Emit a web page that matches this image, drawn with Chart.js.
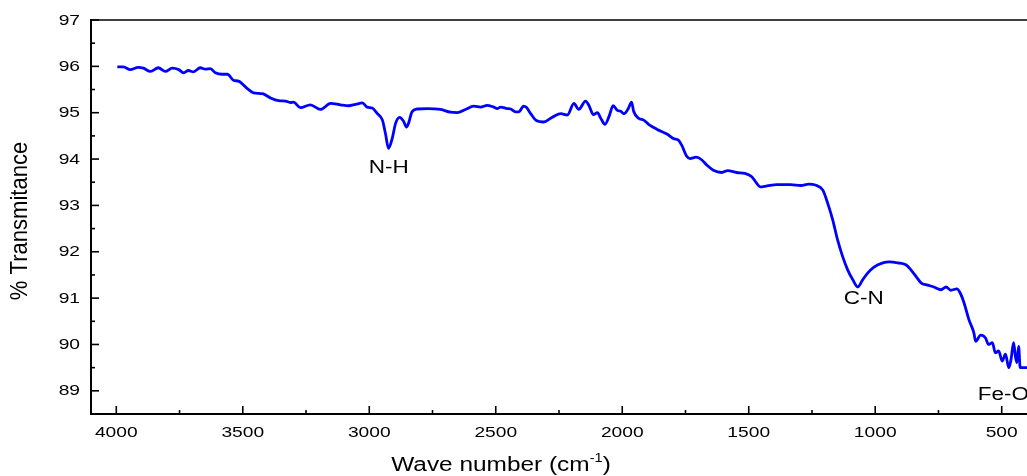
<!DOCTYPE html>
<html>
<head>
<meta charset="utf-8">
<title>FTIR spectrum</title>
<script src="https://cdn.jsdelivr.net/npm/chart.js@4.4.1/dist/chart.umd.min.js"></script>
<style>
  html, body { margin: 0; padding: 0; background: #fff; }
  #wrap { width: 1027px; height: 476px; position: relative; }
</style>
</head>
<body>
<div id="wrap"><canvas id="ftir"></canvas></div>
<script>
// wave numbers (cm-1)
const waveNumbers = [
  3996, 3972, 3945, 3913, 3893, 3865, 3834, 3806, 3779, 3753, 3734, 3715, 3695, 3668, 3648, 3628,
  3608, 3581, 3561, 3537, 3517, 3482, 3458, 3422, 3391, 3359, 3331, 3312, 3300, 3272, 3233, 3193,
  3153, 3114, 3082, 3054, 3027, 3008, 2988, 2968, 2948, 2936, 2924, 2909, 2896, 2880, 2865, 2853,
  2845, 2831, 2811, 2771, 2718, 2679, 2652, 2620, 2587, 2560, 2534, 2508, 2494, 2481, 2455, 2441,
  2422, 2408, 2391, 2378, 2362, 2342, 2310, 2283, 2243, 2217, 2191, 2172, 2145, 2132, 2114, 2098,
  2085, 2068, 2052, 2036, 2019, 2006, 1993, 1976, 1963, 1955, 1935, 1915, 1896, 1862, 1823, 1797,
  1778, 1765, 1745, 1732, 1708, 1685, 1666, 1640, 1607, 1583, 1548, 1515, 1488, 1469, 1455, 1428,
  1389, 1334, 1294, 1263, 1237, 1207, 1188, 1168, 1149, 1129, 1109, 1089, 1069, 1049, 1030, 1005,
  970, 944, 911, 879, 859, 839, 819, 793, 768, 740, 720, 701, 677, 664, 649, 630,
  610, 603, 583, 564, 552, 537, 525, 512, 498, 485, 472, 463, 453, 446, 440, 433,
  427, 413, 400
];

// % transmittance at each wave number
const transmittance = [
  95.99, 95.99, 95.93, 95.98, 95.96, 95.89, 95.97, 95.89, 95.96, 95.93, 95.86, 95.91, 95.88, 95.97, 95.94, 95.95,
  95.86, 95.83, 95.83, 95.70, 95.68, 95.52, 95.43, 95.41, 95.32, 95.26, 95.25, 95.22, 95.23, 95.11, 95.17, 95.07,
  95.20, 95.17, 95.15, 95.18, 95.21, 95.12, 95.10, 94.98, 94.84, 94.55, 94.23, 94.45, 94.77, 94.90, 94.82, 94.69,
  94.77, 95.02, 95.08, 95.09, 95.07, 95.01, 95.00, 95.07, 95.14, 95.12, 95.16, 95.12, 95.09, 95.12, 95.09, 95.08,
  95.02, 95.02, 95.14, 95.11, 94.98, 94.84, 94.80, 94.88, 94.98, 94.95, 95.20, 95.07, 95.25, 95.16, 94.96, 95.00,
  94.88, 94.75, 94.92, 95.15, 95.05, 95.03, 94.98, 95.09, 95.23, 95.03, 94.88, 94.84, 94.75, 94.64, 94.54, 94.44,
  94.41, 94.30, 94.06, 94.01, 94.04, 93.98, 93.87, 93.76, 93.71, 93.75, 93.71, 93.69, 93.62, 93.48, 93.40, 93.42,
  93.45, 93.45, 93.43, 93.46, 93.44, 93.33, 93.05, 92.69, 92.26, 91.90, 91.61, 91.40, 91.24, 91.40, 91.54, 91.67,
  91.76, 91.78, 91.76, 91.72, 91.61, 91.47, 91.33, 91.28, 91.24, 91.18, 91.24, 91.17, 91.20, 91.11, 90.90, 90.54,
  90.25, 90.07, 90.20, 90.14, 90.00, 90.04, 89.82, 89.86, 89.64, 89.79, 89.50, 89.68, 90.04, 89.75, 89.61, 89.96,
  89.50, 89.50, 89.50
];

// tick labels
const xTicks = [4000, 3500, 3000, 2500, 2000, 1500, 1000, 500];
const yTicks = [89, 90, 91, 92, 93, 94, 95, 96, 97];

// band labels
const bandNames = ['N-H', 'C-N', 'Fe-O'];
const bandWave = [2923, 1045, 595];
const bandLevel = [93.70, 90.88, 88.80];
const bandAlign = ['center', 'center', 'left'];

const FONT = '"Liberation Sans", Arial, sans-serif';
const STRETCH = 1.28; // the original text is drawn wide

function wideText(ctx, text, x, y, size, align, baseline, sx) {
    ctx.save();
    ctx.font = size + 'px ' + FONT;
    ctx.translate(x, y);
    ctx.scale(sx || STRETCH, 1);
    ctx.textAlign = align;
    ctx.textBaseline = baseline;
    ctx.fillText(text, 0, 0);
    ctx.restore();
}

// draws the frame, inward ticks, labels and titles
const framePlugin = {
    id: 'frame',
    afterDatasetsDraw(chart) {
        const ctx = chart.ctx;
        const a = chart.chartArea;
        const xs = chart.scales.x;
        const ys = chart.scales.y;

        ctx.save();
        ctx.strokeStyle = '#000';
        ctx.fillStyle = '#000';
        ctx.lineCap = 'butt';

        // axis lines
        ctx.lineWidth = 2;
        ctx.beginPath();
        ctx.moveTo(a.left, a.top - 1);
        ctx.lineTo(a.left, a.bottom);
        ctx.lineTo(a.right, a.bottom);
        ctx.stroke();
        ctx.lineWidth = 1.6;
        ctx.beginPath();
        ctx.moveTo(a.left - 1, a.top);
        ctx.lineTo(a.right, a.top);
        ctx.stroke();

        // x ticks (inward) and labels
        ctx.lineWidth = 1.6;
        xTicks.forEach((v, i) => {
            const px = xs.getPixelForValue(v);
            ctx.beginPath();
            ctx.moveTo(px, a.bottom);
            ctx.lineTo(px, a.bottom - 8);
            ctx.stroke();
            if (i < xTicks.length - 1) {
                const mx = xs.getPixelForValue((v + xTicks[i + 1]) / 2);
                ctx.beginPath();
                ctx.moveTo(mx, a.bottom);
                ctx.lineTo(mx, a.bottom - 4);
                ctx.stroke();
            }
            wideText(ctx, String(v), px, a.bottom + 23, 15, 'center', 'alphabetic');
        });

        // y ticks (inward) and labels
        yTicks.forEach((v, i) => {
            const py = ys.getPixelForValue(v);
            ctx.beginPath();
            ctx.moveTo(a.left, py);
            ctx.lineTo(a.left + 8, py);
            ctx.stroke();
            if (i < yTicks.length - 1) {
                const my = ys.getPixelForValue((v + yTicks[i + 1]) / 2);
                ctx.beginPath();
                ctx.moveTo(a.left, my);
                ctx.lineTo(a.left + 4, my);
                ctx.stroke();
            }
            wideText(ctx, String(v), a.left - 11, py + 0.5, 15, 'right', 'middle');
        });

        // band labels
        bandNames.forEach((t, i) => {
            wideText(ctx, t, xs.getPixelForValue(bandWave[i]), ys.getPixelForValue(bandLevel[i]),
                18, bandAlign[i], 'alphabetic', 1.25);
        });

        // x title with superscript
        const sx = 1.22;
        ctx.font = '20px ' + FONT;
        const part1 = 'Wave number (cm';
        const w1 = ctx.measureText(part1).width;
        const w3 = ctx.measureText(')').width;
        ctx.font = '12px ' + FONT;
        const w2 = ctx.measureText('-1').width;
        const total = (w1 + w2 + w3) * sx;
        let tx = 501 - total / 2;
        const base = 471;
        wideText(ctx, part1, tx, base, 20, 'left', 'alphabetic', sx);
        tx += w1 * sx;
        wideText(ctx, '-1', tx, base - 9, 12, 'left', 'alphabetic', sx);
        tx += w2 * sx;
        wideText(ctx, ')', tx, base, 20, 'left', 'alphabetic', sx);

        // y title
        ctx.save();
        ctx.translate(21, 221);
        ctx.rotate(-Math.PI / 2);
        ctx.scale(1.05, 1.1);
        ctx.font = '21px ' + FONT;
        ctx.textAlign = 'center';
        ctx.textBaseline = 'middle';
        ctx.fillText('% Transmitance', 0, 0);
        ctx.restore();

        ctx.restore();
    }
};

const points = waveNumbers.map((w, i) => ({ x: w, y: transmittance[i] }));

new Chart(document.getElementById('ftir').getContext('2d'), {
    type: 'line',
    data: {
        datasets: [{
            data: points,
            borderColor: '#0000ff',
            borderWidth: 2.8,
            pointRadius: 0,
            cubicInterpolationMode: 'monotone',
            fill: false
        }]
    },
    options: {
        responsive: true,
        maintainAspectRatio: false,
        animation: false,
        layout: { padding: { left: 91, top: 20, right: 0, bottom: 62 } },
        plugins: {
            legend: { display: false },
            tooltip: { enabled: false }
        },
        scales: {
            x: { type: 'linear', reverse: true, min: 400, max: 4100, display: false },
            y: { type: 'linear', min: 88.5, max: 97, display: false }
        }
    },
    plugins: [framePlugin]
});
</script>
</body>
</html>
